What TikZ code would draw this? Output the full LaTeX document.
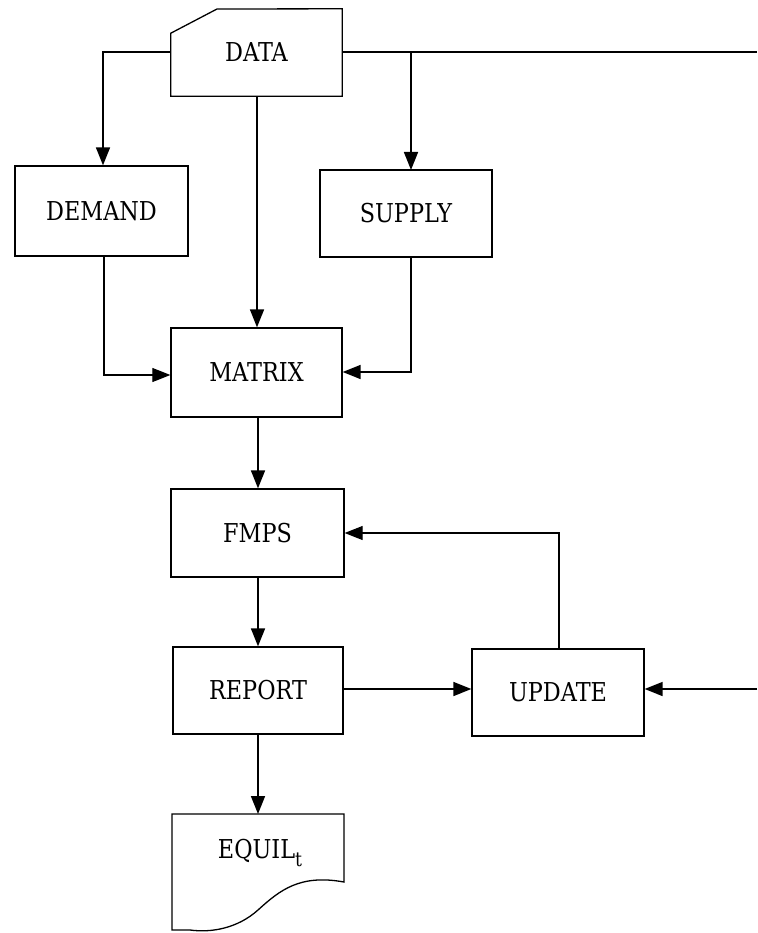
\documentclass[tikz,border=0pt]{standalone}
\usepackage{graphicx}
\usepackage{fontspec}
\setmainfont{DejaVu Serif}
\usetikzlibrary{arrows.meta}
\newcommand{\lbl}[1]{\scalebox{0.86}[1]{#1}}
\begin{document}
\begin{tikzpicture}[x=1pt,y=-1pt,
  boxnode/.style={draw,line width=1.3pt,inner sep=0pt,font=\fontsize{26}{28}\selectfont},
  plainnode/.style={inner sep=0pt,font=\fontsize{26}{28}\selectfont},
  outline/.style={draw,line width=1.3pt,line join=miter},
  flow/.style={line width=1.6pt,-{Triangle[length=18pt,width=14pt]}},
  thinflow/.style={line width=1.1pt,-{Triangle[length=18pt,width=14pt]}},
  wire/.style={line width=1.6pt}]
\useasboundingbox (0,0) rectangle (757,933);
% DATA (card shape)
\node[plainnode,minimum width=171pt,minimum height=87pt] (data) at (256.5,52.5) {\lbl{DATA}};
\draw[outline] (data.south west) -- ++(0,-63) -- (217,9) -- (data.north east) -- (data.south east) -- cycle;
% boxes
\node[boxnode,minimum width=173pt,minimum height=90pt] (demand) at (101.5,211) {\lbl{DEMAND}};
\node[boxnode,minimum width=172pt,minimum height=87pt] (supply) at (406,213.5) {\lbl{SUPPLY}};
\node[boxnode,minimum width=171pt,minimum height=89pt] (matrix) at (256.5,372.5) {\lbl{MATRIX}};
\node[boxnode,minimum width=173pt,minimum height=88pt] (fmps) at (257.5,533) {\lbl{FMPS}};
\node[boxnode,minimum width=170pt,minimum height=87pt] (report) at (258,690.5) {\lbl{REPORT}};
\node[boxnode,minimum width=172pt,minimum height=87pt] (update) at (558,692.5) {\lbl{UPDATE}};
% EQUIL (document shape)
\node[plainnode] (equil) at (260,853) {\lbl{EQUIL\raisebox{-8pt}{\fontsize{20}{20}\selectfont t}}};
\coordinate (eqtl) at (172,814);
\coordinate (eqtr) at (344,814);
\draw[outline] (eqtl) -- (eqtr) -- (344,882)
  .. controls (300,874) and (280,890) .. (258,910)
  .. controls (238,928) and (212,933) .. (190,930)
  -- (172,930) -- cycle;
% free ends / junctions
\coordinate (topright) at (757,52);
\coordinate (branch) at (411,52);
\coordinate (supin) at (411,170);
\coordinate (midright) at (757,689);
% connectors
\draw[flow] (data.west |- 0,52) -| (demand.north -| 103,0);
\draw[wire] (data.east |- 0,52) -- (topright);
\draw[flow] (branch) -- (supin);
\draw[flow] (data.south -| 257,0) -- (matrix.north -| 257,0);
\draw[thinflow] (demand.south -| 104,0) |- (matrix.west |- 0,375);
\draw[flow] (supply.south -| 411,0) |- (matrix.east |- 0,372);
\draw[flow] (matrix.south -| 258,0) -- (fmps.north -| 258,0);
\draw[flow] (fmps.south -| 258,0) -- (report.north -| 258,0);
\draw[flow] (report.east |- 0,689) -- (update.west |- 0,689);
\draw[flow] (midright) -- (update.east |- 0,689);
\draw[thinflow] (update.north -| 559,0) |- (fmps.east |- 0,533);
\draw[flow] (report.south -| 258,0) -- (eqtl -| 258,0);
\end{tikzpicture}
\end{document}
